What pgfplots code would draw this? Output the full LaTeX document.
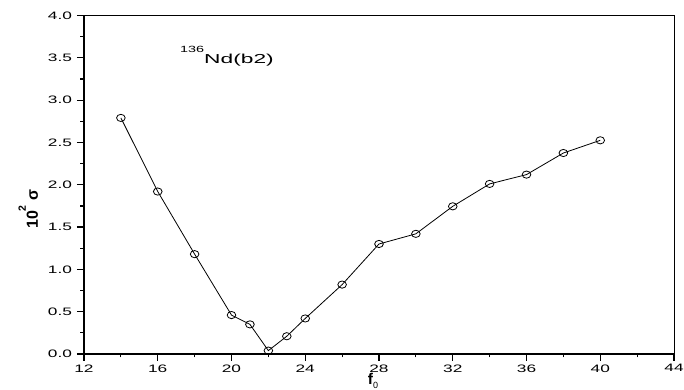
\documentclass[border=0pt]{standalone}
\usepackage{fontspec}
\setmainfont{Liberation Sans}
\usepackage{graphicx}
\usepackage{pgfplots}
\pgfplotsset{compat=1.18}

% horizontally widened text, as in the original plotting program's output
\newcommand\wide[2][1.6]{\scalebox{#1}[1]{#2}}

\pgfplotstableread{
f    sigma
14   2.79
16   1.92
18   1.18
20   0.46
21   0.35
22   0.04
23   0.21
24   0.42
26   0.82
28   1.30
30   1.42
32   1.745
34   2.01
36   2.12
38   2.375
40   2.525
}\sigmadata

\begin{document}
\begin{tikzpicture}
\begin{axis}[
  scale only axis,
  width=590bp, height=338.5bp,
  xmin=12, xmax=44, ymin=0, ymax=4,
  axis x line*=bottom, axis y line*=left,
  axis line style={line width=1.6bp, -},
  xtick={12,16,20,24,28,32,36,40,44},
  minor xtick={14,18,22,26,30,34,38,42},
  ytick={0,0.5,1,1.5,2,2.5,3,3.5,4},
  minor ytick={0.25,0.75,1.25,1.75,2.25,2.75,3.25,3.75},
  tick align=outside,
  major tick length=7bp, minor tick length=3.5bp,
  every tick/.style={black, line width=1.2bp},
  /pgf/number format/assume math mode=true,
  tick label style={font=\fontsize{10.8bp}{12bp}\selectfont},
  y tick label style={xshift=-1.5bp},
  xticklabel={\wide{\pgfmathprintnumber{\tick}}},
  yticklabel={\wide{\pgfmathprintnumber[fixed,fixed zerofill,precision=1]{\tick}}},
  clip=false,
]
  \addplot[black, line width=0.8bp, mark=o, mark size=3.6bp,
           mark options={xscale=1.2, line width=0.8bp}]
    table[x=f, y=sigma] {\sigmadata};

  % thin frame on the top and right sides
  \draw[line width=1bp] (rel axis cs:0,1) -- (rel axis cs:1,1) -- (rel axis cs:1,0);

  % nucleus / band label
  \node[anchor=base west, inner sep=0]
    at (rel axis cs:0.1627,0.857)
    {\wide[1.6]{\raisebox{11bp}{\fontsize{9bp}{9bp}\selectfont 136}}\wide[1.75]{\fontsize{13bp}{15bp}\selectfont Nd(b2)}};

  % x-axis label
  \node[anchor=base west, inner sep=0, yshift=-30.5bp]
    at (rel axis cs:0.481,0)
    {\fontsize{15.5bp}{17bp}\selectfont\textbf{f}\raisebox{-3.5bp}{\fontsize{9bp}{9bp}\selectfont 0}};

  % y-axis label
  \node[anchor=base west, inner sep=0, rotate=90]
    at ([xshift=-46bp]rel axis cs:0,0.369)
    {\fontsize{16bp}{18bp}\selectfont\bfseries 10\raisebox{12bp}{\fontsize{10.5bp}{10bp}\selectfont 2}\hspace{5bp}σ};
\end{axis}
\pgfresetboundingbox
\path ([shift={(-84bp,-36bp)}]current axis.south west) rectangle ++(684bp,390bp);
\end{tikzpicture}
\end{document}
